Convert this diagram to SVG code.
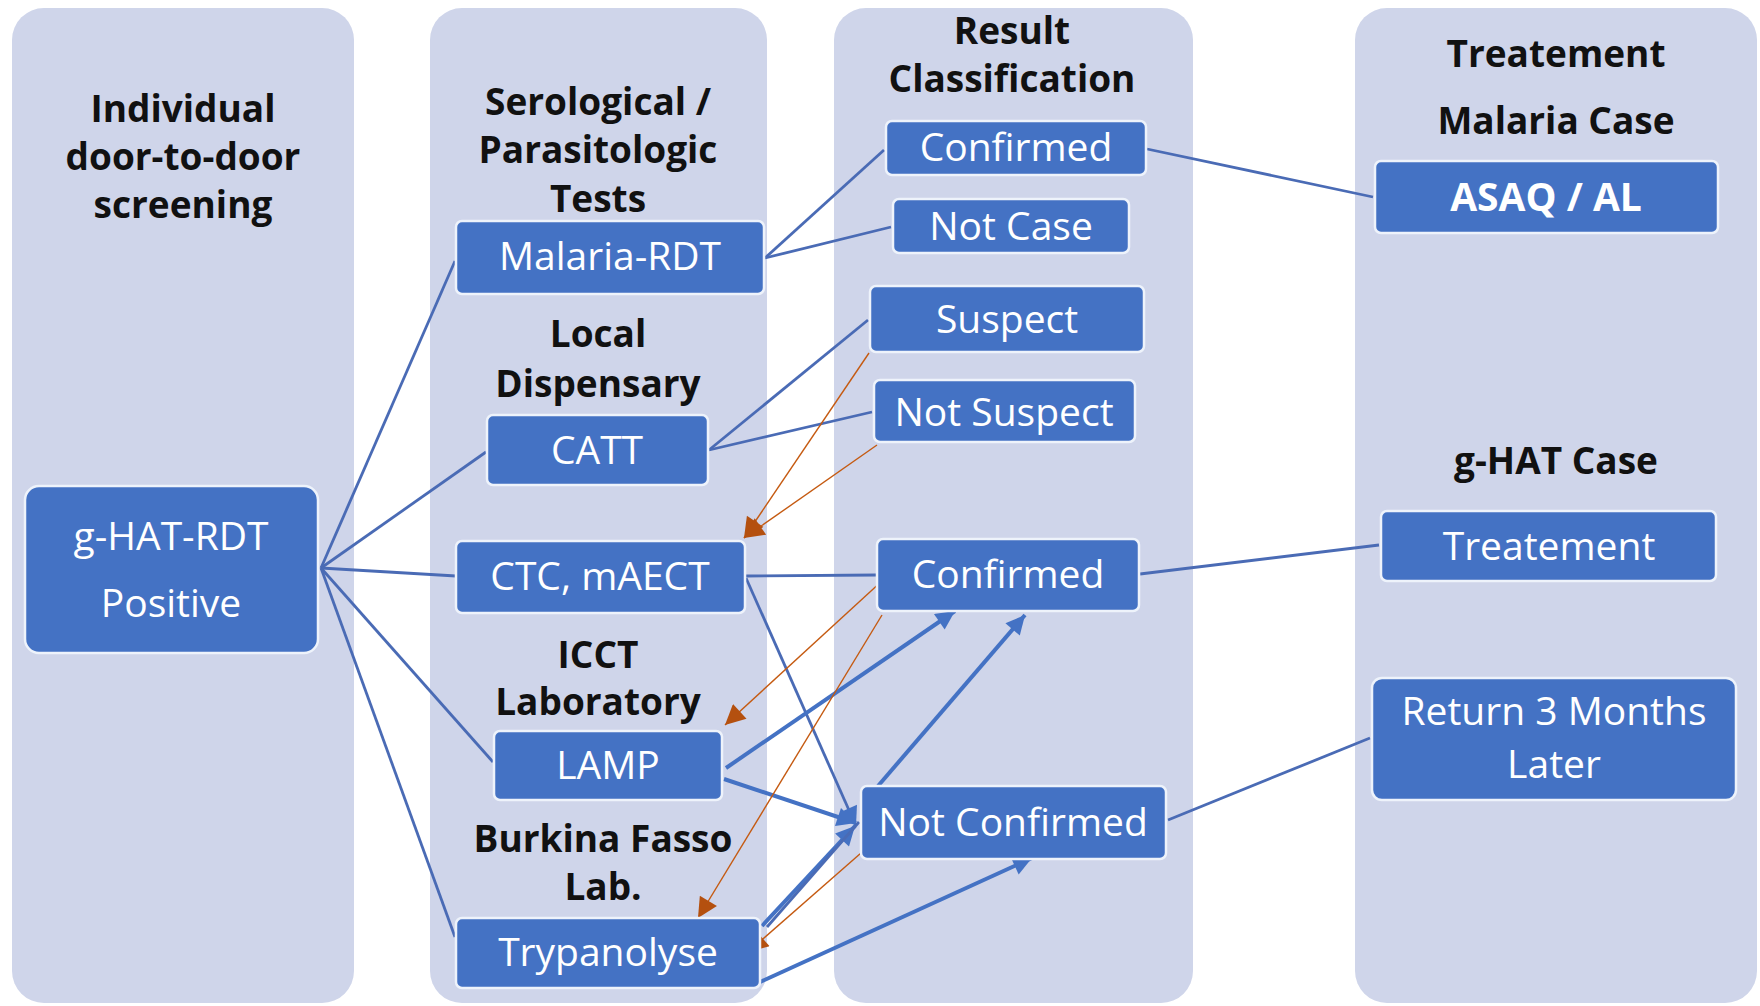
<svg xmlns="http://www.w3.org/2000/svg" width="1760" height="1006" viewBox="0 0 1760 1006">
<defs>
<style>
.panel{fill:#CFD5EA;}
.node{fill:#4472C4;stroke:#EEF3FB;stroke-width:2.5;}
.hdr{font-family:"Open Sans","Liberation Sans",sans-serif;font-weight:bold;font-size:37px;fill:#111111;text-anchor:middle;}
.lbl{font-family:"Open Sans","Liberation Sans",sans-serif;font-size:39px;fill:#FFFFFF;text-anchor:middle;}
.thin{stroke:#4A6BB5;stroke-width:2.8;fill:none;}
.thick{stroke:#4472C4;stroke-width:4;fill:none;}
.org{stroke:#C55A11;stroke-width:1.4;fill:none;}
</style>
<marker id="ab" viewBox="0 0 10 10" refX="10" refY="5" markerWidth="24" markerHeight="19" markerUnits="userSpaceOnUse" orient="auto"><path d="M0,0 L10,5 L0,10 z" fill="#4472C4"/></marker>
<marker id="ao" viewBox="0 0 10 10" refX="10" refY="5" markerWidth="24" markerHeight="20" markerUnits="userSpaceOnUse" orient="auto"><path d="M0,0 L10,5 L0,10 z" fill="#B4500F"/></marker>
</defs>
<rect width="1760" height="1006" fill="#FFFFFF"/>
<g id="panels">
<rect class="panel" x="12" y="8" width="342" height="995" rx="32"/>
<rect class="panel" x="430" y="8" width="337" height="995" rx="32"/>
<rect class="panel" x="834" y="8" width="359" height="995" rx="32"/>
<rect class="panel" x="1355" y="8" width="402" height="995" rx="32"/>
</g>
<g id="headers">
<text class="hdr" x="183" y="122" font-size="38">Individual</text>
<text class="hdr" x="183" y="170" font-size="38">door-to-door</text>
<text class="hdr" x="183" y="218" font-size="38">screening</text>
<text class="hdr" x="598" y="115">Serological /</text>
<text class="hdr" x="598" y="163">Parasitologic</text>
<text class="hdr" x="598" y="212">Tests</text>
<text class="hdr" x="598" y="347">Local</text>
<text class="hdr" x="598" y="397">Dispensary</text>
<text class="hdr" x="598" y="668">ICCT</text>
<text class="hdr" x="598" y="715">Laboratory</text>
<text class="hdr" x="603" y="852">Burkina Fasso</text>
<text class="hdr" x="603" y="900">Lab.</text>
<text class="hdr" x="1012" y="44">Result</text>
<text class="hdr" x="1012" y="92">Classification</text>
<text class="hdr" x="1556" y="67">Treatement</text>
<text class="hdr" x="1556" y="134">Malaria Case</text>
<text class="hdr" x="1556" y="474">g-HAT Case</text>
</g>
<g id="connectors">
<line class="thin" x1="321" y1="568" x2="455" y2="261"/>
<line class="thin" x1="321" y1="568" x2="486" y2="452"/>
<line class="thin" x1="321" y1="568" x2="456" y2="576"/>
<line class="thin" x1="321" y1="568" x2="493" y2="762"/>
<line class="thin" x1="321" y1="568" x2="455" y2="937"/>
<line class="thin" x1="765" y1="258" x2="884" y2="150"/>
<line class="thin" x1="765" y1="258" x2="891" y2="227"/>
<line class="thin" x1="1147" y1="149" x2="1373" y2="197"/>
<line class="thin" x1="709" y1="450" x2="868" y2="320"/>
<line class="thin" x1="709" y1="450" x2="872" y2="412"/>
<line class="thin" x1="746" y1="576" x2="877" y2="575"/>
<line class="thin" x1="746" y1="578" x2="856" y2="826" marker-end="url(#ab)"/>
<line class="thin" x1="1140" y1="574" x2="1379" y2="545"/>
<line class="thin" x1="1168" y1="820" x2="1370" y2="738"/>
<line class="thick" x1="726" y1="768" x2="955" y2="611" marker-end="url(#ab)"/>
<line class="thick" x1="724" y1="779" x2="856" y2="823" marker-end="url(#ab)"/>
<line class="thick" x1="878" y1="786" x2="1025" y2="615" marker-end="url(#ab)"/>
<line class="thick" x1="762" y1="926" x2="855" y2="826" marker-end="url(#ab)"/>
<line class="thin" x1="767" y1="927" x2="859" y2="822"/>
<line class="thick" x1="760" y1="982" x2="1032" y2="858" marker-end="url(#ab)"/>
<line class="org" x1="869" y1="353" x2="744" y2="538" marker-end="url(#ao)"/>
<line class="org" x1="877" y1="445" x2="744" y2="538" marker-end="url(#ao)"/>
<line class="org" x1="883" y1="580" x2="725" y2="725" marker-end="url(#ao)"/>
<line class="org" x1="882" y1="615" x2="698" y2="918" marker-end="url(#ao)"/>
<line class="org" x1="861" y1="853" x2="748" y2="952" marker-end="url(#ao)"/>
</g>
<g id="n-ghat"><rect class="node" x="25" y="486" width="293" height="167" rx="14"/><text class="lbl" x="171" y="550">g-HAT-RDT</text><text class="lbl" x="171" y="617">Positive</text></g>
<g id="n-malaria-rdt"><rect class="node" x="456" y="221" width="308" height="73" rx="6"/><text class="lbl" x="610" y="270">Malaria-RDT</text></g>
<g id="n-catt"><rect class="node" x="487" y="415" width="221" height="70" rx="6"/><text class="lbl" x="597" y="464">CATT</text></g>
<g id="n-ctc"><rect class="node" x="456" y="541" width="289" height="72" rx="6"/><text class="lbl" x="600" y="590">CTC, mAECT</text></g>
<g id="n-lamp"><rect class="node" x="494" y="731" width="228" height="69" rx="6"/><text class="lbl" x="608" y="779">LAMP</text></g>
<g id="n-trypanolyse"><rect class="node" x="456" y="918" width="304" height="70" rx="6"/><text class="lbl" x="608" y="966">Trypanolyse</text></g>
<g id="n-confirmed-malaria"><rect class="node" x="886" y="121" width="260" height="54" rx="6"/><text class="lbl" x="1016" y="161">Confirmed</text></g>
<g id="n-not-case"><rect class="node" x="893" y="199" width="236" height="54" rx="6"/><text class="lbl" x="1011" y="240">Not Case</text></g>
<g id="n-suspect"><rect class="node" x="870" y="286" width="274" height="66" rx="6"/><text class="lbl" x="1007" y="333">Suspect</text></g>
<g id="n-not-suspect"><rect class="node" x="874" y="380" width="261" height="62" rx="6"/><text class="lbl" x="1004" y="426">Not Suspect</text></g>
<g id="n-confirmed-hat"><rect class="node" x="877" y="539" width="262" height="72" rx="6"/><text class="lbl" x="1008" y="588">Confirmed</text></g>
<g id="n-not-confirmed"><rect class="node" x="861" y="786" width="305" height="73" rx="6"/><text class="lbl" x="1013" y="836">Not Confirmed</text></g>
<g id="n-asaq"><rect class="node" x="1375" y="161" width="343" height="72" rx="6"/><text class="lbl" x="1546" y="211" font-weight="bold" font-size="38">ASAQ / AL</text></g>
<g id="n-treatement"><rect class="node" x="1381" y="511" width="335" height="70" rx="6"/><text class="lbl" x="1549" y="560">Treatement</text></g>
<g id="n-return"><rect class="node" x="1372" y="678" width="364" height="122" rx="10"/><text class="lbl" x="1554" y="725" font-size="38">Return 3 Months</text><text class="lbl" x="1554" y="778" font-size="38">Later</text></g>
</svg>
